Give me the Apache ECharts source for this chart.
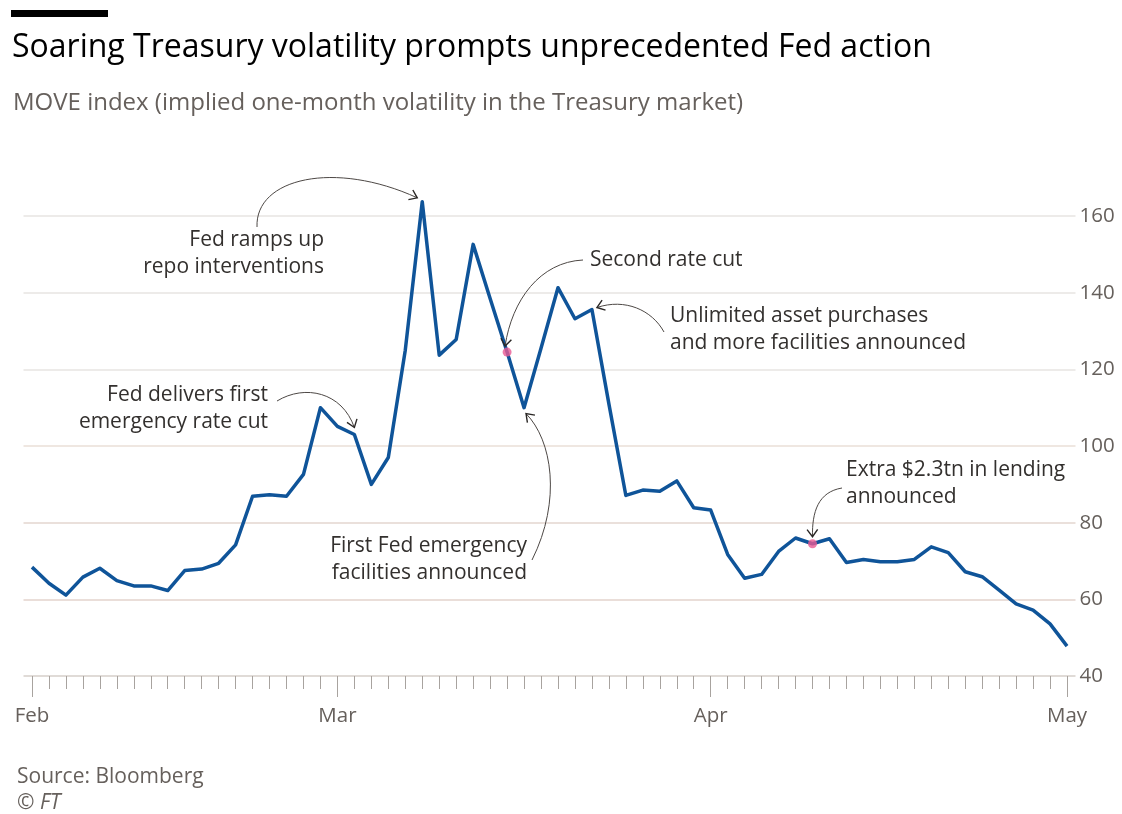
<!DOCTYPE html>
<html>
<head>
<meta charset="utf-8">
<script src="https://cdn.jsdelivr.net/npm/echarts@6/dist/echarts.min.js"></script>
<style>
html,body{margin:0;padding:0;background:#fff;}
#chart{width:1122px;height:814px;}
</style>
</head>
<body>
<div id="chart"></div>
<script>
// ---- Data ----
const dates = [
  '2020-02-04','2020-02-05','2020-02-06','2020-02-07','2020-02-10','2020-02-11','2020-02-12','2020-02-13','2020-02-14',
  '2020-02-18','2020-02-19','2020-02-20','2020-02-21','2020-02-24','2020-02-25','2020-02-26','2020-02-27','2020-02-28',
  '2020-03-02','2020-03-03','2020-03-04','2020-03-05','2020-03-06','2020-03-09','2020-03-10','2020-03-11','2020-03-12',
  '2020-03-13','2020-03-16','2020-03-17','2020-03-18','2020-03-19','2020-03-20','2020-03-23','2020-03-24','2020-03-25',
  '2020-03-26','2020-03-27','2020-03-30','2020-03-31',
  '2020-04-01','2020-04-02','2020-04-03','2020-04-06','2020-04-07','2020-04-08','2020-04-09','2020-04-13','2020-04-14',
  '2020-04-15','2020-04-16','2020-04-17','2020-04-20','2020-04-21','2020-04-22','2020-04-23','2020-04-24','2020-04-27',
  '2020-04-28','2020-04-29','2020-04-30','2020-05-01'
];
const moveIndex = [
  68.4, 64.2, 61.1, 65.8, 68.1, 64.9, 63.5, 63.5, 62.3,
  67.5, 67.9, 69.4, 74.2, 86.9, 87.3, 86.9, 92.6, 110.0,
  105.1, 103.0, 90.0, 97.0, 125.0, 163.7, 123.7, 127.8, 152.6,
  138.5, 124.5, 110.0, 125.5, 141.3, 133.2, 135.6, 111.0, 87.1,
  88.5, 88.2, 90.9, 83.9,
  83.3, 71.7, 65.5, 66.5, 72.5, 76.0, 74.5, 75.8, 69.6,
  70.4, 69.8, 69.8, 70.4, 73.7, 72.2, 67.2, 65.9, 62.4,
  58.8, 57.2, 53.6, 47.8
];
const monthNames = {'02':'Feb','03':'Mar','04':'Apr','05':'May'};
const yTicks = [40, 60, 80, 100, 120, 140, 160];
const highlightDates = ['2020-03-16', '2020-04-09'];

const titleText = 'Soaring Treasury volatility prompts unprecedented Fed action';
const subtitleText = 'MOVE index (implied one-month volatility in the Treasury market)';
const sourceText = 'Source: Bloomberg';
const creditText = '\u00A9 FT';

const annotations = [
  {date:'2020-03-09', text:'Fed ramps up\nrepo interventions', tx:324, ty:240, align:'right',
   start:[257,227], c1:[255,178], c2:[335,160], tipOff:[-5,-4]},
  {date:'2020-03-03', text:'Fed delivers first\nemergency rate cut', tx:268, ty:395, align:'right',
   start:[277,401], c1:[305,384], c2:[342,392], tipOff:[0,-7]},
  {date:'2020-03-16', text:'Second rate cut', tx:590, ty:260, align:'left',
   start:[583,260], c1:[540,262], c2:[512,300], tipOff:[-2,-6]},
  {date:'2020-03-23', text:'Unlimited asset purchases\nand more facilities announced', tx:670, ty:316, align:'left',
   start:[664,332], c1:[652,310], c2:[625,298], tipOff:[5,-2]},
  {date:'2020-03-17', text:'First Fed emergency\nfacilities announced', tx:527, ty:546, align:'right',
   start:[532,560], c1:[562,500], c2:[552,440], tipOff:[2,6]},
  {date:'2020-04-09', text:'Extra $2.3tn in lending\nannounced', tx:846, ty:470, align:'left',
   start:[842,488], c1:[818,492], c2:[812,512], tipOff:[0,-7]}
];

// ---- Styles ----
const FONT = 'Open Sans';
const BLUE = '#0f5499';
const PINK = '#ea5a93';
const TEXT = '#33302e';
const GREY = '#66605c';
const TICK = '#a8a39f';

const monthIdx = [];
dates.forEach((d, i) => {
  const m = d.slice(5, 7);
  if (i === 0 || dates[i - 1].slice(5, 7) !== m) monthIdx.push(i);
});

const chart = echarts.init(document.getElementById('chart'), null, {renderer: 'canvas'});

const option = {
  animation: false,
  backgroundColor: '#ffffff',
  textStyle: {fontFamily: FONT},
  grid: {left: 23.5, right: 46.5, top: 216, bottom: 138, containLabel: false},
  xAxis: [
    {
      type: 'category', data: dates, boundaryGap: true,
      axisLine: {show: false, onZero: false},
      axisTick: {show: true, alignWithLabel: true, interval: 0, length: 13,
        lineStyle: {color: TICK, width: 1}},
      axisLabel: {show: false},
      splitLine: {show: false}
    },
    {
      type: 'category', data: dates, boundaryGap: true, position: 'bottom', offset: 0,
      axisLine: {show: false, onZero: false},
      axisTick: {show: true, alignWithLabel: true, length: 21,
        interval: (i) => monthIdx.includes(i),
        lineStyle: {color: TICK, width: 1}},
      axisLabel: {show: true, margin: 30, fontSize: 20.5, color: GREY, fontFamily: FONT,
        interval: (i) => monthIdx.includes(i),
        formatter: (v) => monthNames[v.slice(5, 7)]},
      splitLine: {show: false}
    }
  ],
  yAxis: {
    type: 'value', position: 'right', min: yTicks[0], max: yTicks[yTicks.length - 1], interval: 20,
    axisLine: {show: false}, axisTick: {show: false},
    axisLabel: {margin: 4, fontSize: 20.5, color: GREY, fontFamily: FONT},
    splitLine: {show: true, lineStyle: {width: 1.5,
      color: ['#d6cfca', '#e3d3cd', '#e3d6cf', '#eadfd7', '#e7e5e2', '#e7e5e2', '#e7e5e2']}}
  },
  series: [
    {
      type: 'line', data: moveIndex, xAxisIndex: 0, symbol: 'none', clip: false,
      lineStyle: {color: BLUE, width: 3.5, join: 'round'}, z: 3
    },
    {
      type: 'scatter', xAxisIndex: 0, clip: false,
      data: highlightDates.map(d => [d, moveIndex[dates.indexOf(d)]]),
      symbolSize: 9, itemStyle: {color: PINK}, z: 5
    }
  ]
};
chart.setOption(option);

// ---- Annotations & text ----
function arrowGraphics(a) {
  const idx = dates.indexOf(a.date);
  const p = chart.convertToPixel({xAxisIndex: 0, yAxisIndex: 0}, [idx, moveIndex[idx]]);
  const tip = [p[0] + a.tipOff[0], p[1] + a.tipOff[1]];
  const els = [];
  els.push({type: 'bezierCurve', silent: true, z: 10,
    shape: {x1: a.start[0], y1: a.start[1], cpx1: a.c1[0], cpy1: a.c1[1], cpx2: a.c2[0], cpy2: a.c2[1], x2: tip[0], y2: tip[1]},
    style: {stroke: '#4d4845', lineWidth: 1, fill: null}});
  const dx = tip[0] - a.c2[0], dy = tip[1] - a.c2[1];
  const ang = Math.atan2(dy, dx);
  const L = 9, spread = Math.PI / 5;
  const pA = [tip[0] - L * Math.cos(ang - spread), tip[1] - L * Math.sin(ang - spread)];
  const pB = [tip[0] - L * Math.cos(ang + spread), tip[1] - L * Math.sin(ang + spread)];
  els.push({type: 'polyline', silent: true, z: 10,
    shape: {points: [pA, tip, pB]},
    style: {stroke: '#2a2725', lineWidth: 1.4, fill: null}});
  const lh = 27.5;
  els.push({type: 'text', silent: true, z: 10, x: a.tx, y: a.ty - lh / 2,
    style: {text: a.text, fill: TEXT, font: '21px "' + FONT + '"', align: a.align,
      verticalAlign: 'top', lineHeight: lh}});
  return els;
}

let graphics = [
  {type: 'rect', shape: {x: 11, y: 10, width: 97, height: 7}, style: {fill: '#000'}},
  {type: 'text', x: 12, y: 48, style: {text: titleText, fill: '#000', font: '32px "' + FONT + '"', verticalAlign: 'middle'}},
  {type: 'text', x: 13, y: 103, style: {text: subtitleText, fill: GREY, font: '24px "' + FONT + '"', verticalAlign: 'middle'}},
  {type: 'text', x: 17, y: 777, style: {text: sourceText, fill: GREY, font: '21px "' + FONT + '"', verticalAlign: 'middle'}},
  {type: 'text', x: 17, y: 803, style: {text: creditText, fill: GREY, font: 'italic 21px "' + FONT + '"', verticalAlign: 'middle'}}
];
annotations.forEach(a => { graphics = graphics.concat(arrowGraphics(a)); });
chart.setOption({graphic: graphics});
</script>
</body>
</html>
